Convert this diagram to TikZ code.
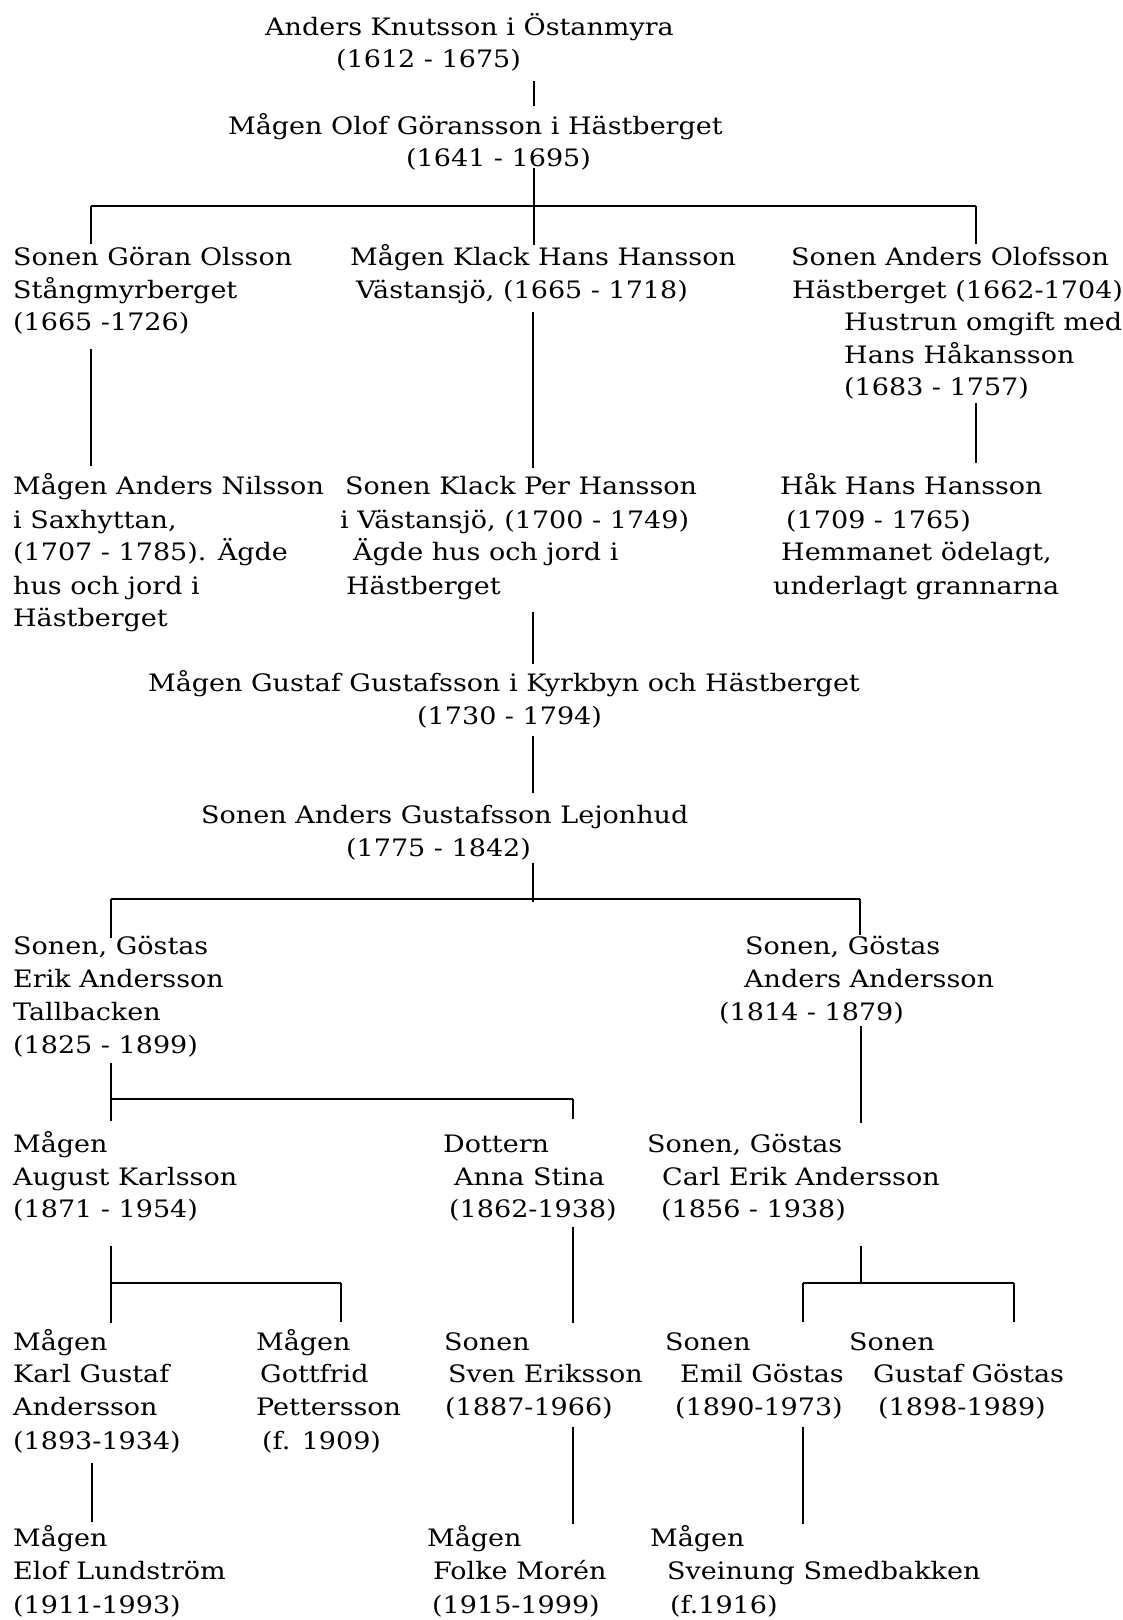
\documentclass[tikz,border=0pt]{standalone}
\usepackage{fontspec}
\setmainfont{DejaVu Serif}[FakeStretch=1.125]
\tikzset{
  txt/.style={anchor=base west, inner sep=0pt, font=\fontsize{24}{29}\selectfont},
  vline/.style={line width=1.1pt},
  hline/.style={line width=2pt}
}
\newcommand\tline[4]{\node[txt] (#1) at (#2,#3) {#4};}
\begin{document}
\begin{tikzpicture}[x=1pt,y=-1pt]
\useasboundingbox (0,0) rectangle (1122,1620);
% texts
\tline{a1}{265}{35}{Anders Knutsson i Östanmyra}
\tline{a2}{336}{67}{(1612 - 1675)}
\tline{b1}{228}{134}{Mågen Olof Göransson i Hästberget}
\tline{b2}{406}{166}{(1641 - 1695)}
\tline{c1}{13}{265}{Sonen Göran Olsson}
\tline{c2}{13}{298}{Stångmyrberget}
\tline{c3}{13}{330}{(1665 -1726)}
\tline{d1}{350}{265}{Mågen Klack Hans Hansson}
\tline{d2}{356}{298}{Västansjö, (1665 - 1718)}
\tline{e1}{791}{265}{Sonen Anders Olofsson}
\tline{e2}{792}{298}{Hästberget (1662-1704)}
\tline{e3}{844}{330}{Hustrun omgift med}
\tline{e4}{844}{363}{Hans Håkansson}
\tline{e5}{844}{395}{(1683 - 1757)}
\tline{f1}{13}{494}{Mågen Anders Nilsson}
\tline{f2}{13}{528}{i Saxhyttan,}
\tline{f3}{13}{560}{(1707 - 1785). Ägde}
\tline{f4}{13}{594}{hus och jord i}
\tline{f5}{13}{626}{Hästberget}
\tline{g1}{345}{494}{Sonen Klack Per Hansson}
\tline{g2}{340}{528}{i Västansjö, (1700 - 1749)}
\tline{g3}{353}{560}{Ägde hus och jord i}
\tline{g4}{346}{594}{Hästberget}
\tline{h1}{780}{494}{Håk Hans Hansson}
\tline{h2}{786}{528}{(1709 - 1765)}
\tline{h3}{781}{560}{Hemmanet ödelagt,}
\tline{h4}{773}{594}{underlagt grannarna}
\tline{i1}{148}{691}{Mågen Gustaf Gustafsson i Kyrkbyn och Hästberget}
\tline{i2}{417}{724}{(1730 - 1794)}
\tline{j1}{201}{823}{Sonen Anders Gustafsson Lejonhud}
\tline{j2}{346}{856}{(1775 - 1842)}
\tline{k1}{13}{954}{Sonen, Göstas}
\tline{k2}{13}{987}{Erik Andersson}
\tline{k3}{13}{1020}{Tallbacken}
\tline{k4}{13}{1053}{(1825 - 1899)}
\tline{l1}{745}{954}{Sonen, Göstas}
\tline{l2}{744}{987}{Anders Andersson}
\tline{l3}{719}{1020}{(1814 - 1879)}
\tline{m1}{13}{1152}{Mågen}
\tline{m2}{13}{1185}{August Karlsson}
\tline{m3}{13}{1217}{(1871 - 1954)}
\tline{n1}{443}{1152}{Dottern}
\tline{n2}{454}{1185}{Anna Stina}
\tline{n3}{449}{1217}{(1862-1938)}
\tline{o1}{647}{1152}{Sonen, Göstas}
\tline{o2}{662}{1185}{Carl Erik Andersson}
\tline{o3}{661}{1217}{(1856 - 1938)}
\tline{p1}{13}{1350}{Mågen}
\tline{p2}{13}{1382}{Karl Gustaf}
\tline{p3}{13}{1415}{Andersson}
\tline{p4}{13}{1449}{(1893-1934)}
\tline{q1}{256}{1350}{Mågen}
\tline{q2}{260}{1382}{Gottfrid}
\tline{q3}{256}{1415}{Pettersson}
\tline{q4}{262}{1449}{(f. 1909)}
\tline{r1}{444}{1350}{Sonen}
\tline{r2}{448}{1382}{Sven Eriksson}
\tline{r3}{445}{1415}{(1887-1966)}
\tline{s1}{665}{1350}{Sonen}
\tline{s2}{680}{1382}{Emil Göstas}
\tline{s3}{675}{1415}{(1890-1973)}
\tline{t1}{849}{1350}{Sonen}
\tline{t2}{873}{1382}{Gustaf Göstas}
\tline{t3}{878}{1415}{(1898-1989)}
\tline{u1}{13}{1546}{Mågen}
\tline{u2}{13}{1579}{Elof Lundström}
\tline{u3}{13}{1613}{(1911-1993)}
\tline{v1}{427}{1546}{Mågen}
\tline{v2}{433}{1579}{Folke Morén}
\tline{v3}{432}{1613}{(1915-1999)}
\tline{w1}{650}{1546}{Mågen}
\tline{w2}{667}{1579}{Sveinung Smedbakken}
\tline{w3}{670}{1613}{(f.1916)}
% connector coordinates
\coordinate (c01) at (534,81);  \coordinate (c02) at (534,106);
\coordinate (c03) at (534,168); \coordinate (c04) at (534,245);
\coordinate (c05) at (91,206);  \coordinate (c06) at (976,206);
\coordinate (c07) at (91,244);  \coordinate (c08) at (976,244);
\coordinate (c09) at (91,349);  \coordinate (c10) at (91,466);
\coordinate (c11) at (533,312); \coordinate (c12) at (533,468);
\coordinate (c13) at (976,403); \coordinate (c14) at (976,463);
\coordinate (c15) at (533,612); \coordinate (c16) at (533,664);
\coordinate (c17) at (533,736); \coordinate (c18) at (533,793);
\coordinate (c19) at (533,863); \coordinate (c20) at (533,902);
\coordinate (c21) at (111,899); \coordinate (c22) at (860,899);
\coordinate (c23) at (111,938); \coordinate (c24) at (860,935);
\coordinate (c25) at (111,1063); \coordinate (c26) at (111,1121);
\coordinate (c27) at (111,1099); \coordinate (c28) at (573,1099);
\coordinate (c29) at (573,1119);
\coordinate (c30) at (861,1026); \coordinate (c31) at (861,1123);
\coordinate (c32) at (111,1246); \coordinate (c33) at (111,1323);
\coordinate (c34) at (111,1283); \coordinate (c35) at (341,1283);
\coordinate (c36) at (341,1322);
\coordinate (c37) at (573,1227); \coordinate (c38) at (573,1323);
\coordinate (c39) at (861,1246); \coordinate (c40) at (861,1284);
\coordinate (c41) at (803,1283); \coordinate (c42) at (1014,1283);
\coordinate (c43) at (803,1322); \coordinate (c44) at (1014,1322);
\coordinate (c45) at (92,1463);  \coordinate (c46) at (92,1522);
\coordinate (c47) at (573,1427); \coordinate (c48) at (573,1524);
\coordinate (c49) at (803,1427); \coordinate (c50) at (803,1524);
% connectors
\draw[vline] (c01) -- (c02);
\draw[vline] (c03) -- (c04);
\draw[hline] (c05) -- (c06);
\draw[vline] (c05) -- (c07);
\draw[vline] (c06) -- (c08);
\draw[vline] (c09) -- (c10);
\draw[vline] (c11) -- (c12);
\draw[vline] (c13) -- (c14);
\draw[vline] (c15) -- (c16);
\draw[vline] (c17) -- (c18);
\draw[vline] (c19) -- (c20);
\draw[hline] (c21) -- (c22);
\draw[vline] (c21) -- (c23);
\draw[vline] (c22) -- (c24);
\draw[vline] (c25) -- (c26);
\draw[hline] (c27) -- (c28);
\draw[vline] (c28) -- (c29);
\draw[vline] (c30) -- (c31);
\draw[vline] (c32) -- (c33);
\draw[hline] (c34) -- (c35);
\draw[vline] (c35) -- (c36);
\draw[vline] (c37) -- (c38);
\draw[vline] (c39) -- (c40);
\draw[hline] (c41) -- (c42);
\draw[vline] (c41) -- (c43);
\draw[vline] (c42) -- (c44);
\draw[vline] (c45) -- (c46);
\draw[vline] (c47) -- (c48);
\draw[vline] (c49) -- (c50);
\end{tikzpicture}
\end{document}
